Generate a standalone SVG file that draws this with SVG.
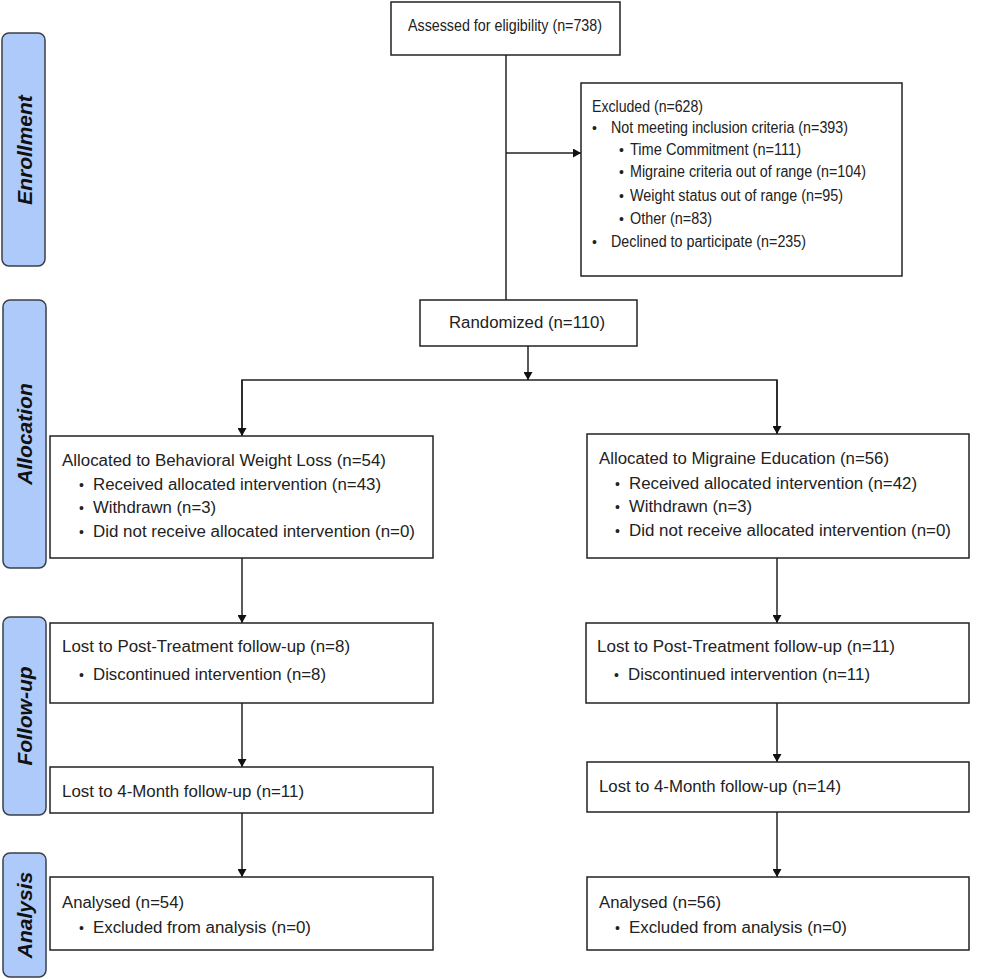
<svg xmlns="http://www.w3.org/2000/svg" width="994" height="979" viewBox="0 0 994 979">
<style>
.box{fill:#fff;stroke:#222;stroke-width:1.5}
.side{fill:#aecafa;stroke:#3a3f48;stroke-width:1.5}
.lbl{font-family:"Liberation Sans",Arial,sans-serif;font-size:21px;font-weight:bold;font-style:italic;fill:#111;text-anchor:middle}
.t{font-family:"Liberation Sans",Arial,sans-serif;font-size:16px;fill:#222}
.b{font-family:"Liberation Sans",Arial,sans-serif;font-size:14px;fill:#222}
.con{stroke:#222;stroke-width:1.5;fill:none}
</style>
<defs>
<marker id="ah" markerWidth="8" markerHeight="9" refX="8" refY="4.5" orient="auto" markerUnits="userSpaceOnUse">
<path d="M0,0 L8,4.5 L0,9 Z" fill="#111"/>
</marker>
</defs>
<rect width="994" height="979" fill="#fff"/>
<g id="phases">
<g id="phase-enrollment"><rect class="side" x="2" y="33" width="43" height="233" rx="7"/><text class="lbl" transform="translate(32,150) rotate(-90)">Enrollment</text></g>
<g id="phase-allocation"><rect class="side" x="3" y="300" width="43" height="268" rx="7"/><text class="lbl" transform="translate(32,434) rotate(-90)">Allocation</text></g>
<g id="phase-followup"><rect class="side" x="3" y="617" width="43" height="198" rx="7"/><text class="lbl" transform="translate(32,716) rotate(-90)">Follow-up</text></g>
<g id="phase-analysis"><rect class="side" x="3" y="853" width="43" height="124" rx="7"/><text class="lbl" transform="translate(32,915) rotate(-90)">Analysis</text></g>
</g>
<g id="connectors">
<line class="con" x1="506" y1="55" x2="506" y2="300"/>
<line class="con" x1="506" y1="153" x2="581" y2="153" marker-end="url(#ah)"/>
<line class="con" x1="528" y1="346" x2="528" y2="380" marker-end="url(#ah)"/>
<polyline class="con" points="242,435 242,380 777,380 777,434"/>
<line class="con" x1="242" y1="380" x2="242" y2="436" marker-end="url(#ah)"/>
<line class="con" x1="777" y1="380" x2="777" y2="434" marker-end="url(#ah)"/>
<line class="con" x1="242" y1="558" x2="242" y2="623" marker-end="url(#ah)"/>
<line class="con" x1="242" y1="703" x2="242" y2="767" marker-end="url(#ah)"/>
<line class="con" x1="242" y1="813" x2="242" y2="877" marker-end="url(#ah)"/>
<line class="con" x1="777" y1="558" x2="777" y2="623" marker-end="url(#ah)"/>
<line class="con" x1="777" y1="703" x2="777" y2="762" marker-end="url(#ah)"/>
<line class="con" x1="777" y1="812" x2="777" y2="877" marker-end="url(#ah)"/>
</g>
<g id="assessed"><rect class="box" x="391" y="2" width="229" height="53"/><text class="t" x="408" y="31" textLength="194" lengthAdjust="spacingAndGlyphs">Assessed for eligibility (n=738)</text></g>
<g id="excluded"><rect class="box" x="581" y="83" width="321" height="193"/>
<text class="t" x="592" y="112" textLength="111" lengthAdjust="spacingAndGlyphs">Excluded (n=628)</text>
<text class="b" x="592" y="133">•</text><text class="t" x="611" y="133" textLength="237" lengthAdjust="spacingAndGlyphs">Not meeting inclusion criteria (n=393)</text>
<text class="b" x="619" y="155">•</text><text class="t" x="630" y="155" textLength="171" lengthAdjust="spacingAndGlyphs">Time Commitment (n=111)</text>
<text class="b" x="619" y="177">•</text><text class="t" x="630" y="177" textLength="236" lengthAdjust="spacingAndGlyphs">Migraine criteria out of range (n=104)</text>
<text class="b" x="619" y="201">•</text><text class="t" x="630" y="201" textLength="213" lengthAdjust="spacingAndGlyphs">Weight status out of range (n=95)</text>
<text class="b" x="619" y="224">•</text><text class="t" x="630" y="224" textLength="82" lengthAdjust="spacingAndGlyphs">Other (n=83)</text>
<text class="b" x="592" y="247">•</text><text class="t" x="611" y="247" textLength="195" lengthAdjust="spacingAndGlyphs">Declined to participate (n=235)</text>
</g>
<g id="randomized"><rect class="box" x="420" y="300" width="217" height="46"/><text class="t" x="449" y="328" textLength="156" lengthAdjust="spacingAndGlyphs">Randomized (n=110)</text></g>
<g id="alloc-bwl"><rect class="box" x="50" y="436" width="383" height="122"/>
<text class="t" x="62" y="466" textLength="324" lengthAdjust="spacingAndGlyphs">Allocated to Behavioral Weight Loss (n=54)</text>
<text class="b" x="79" y="490">•</text><text class="t" x="93" y="490" textLength="288" lengthAdjust="spacingAndGlyphs">Received allocated intervention (n=43)</text>
<text class="b" x="79" y="513">•</text><text class="t" x="93" y="513" textLength="123" lengthAdjust="spacingAndGlyphs">Withdrawn (n=3)</text>
<text class="b" x="79" y="537">•</text><text class="t" x="93" y="537" textLength="322" lengthAdjust="spacingAndGlyphs">Did not receive allocated intervention (n=0)</text>
</g>
<g id="alloc-me"><rect class="box" x="587" y="434" width="382" height="124"/>
<text class="t" x="599" y="464" textLength="290" lengthAdjust="spacingAndGlyphs">Allocated to Migraine Education (n=56)</text>
<text class="b" x="615" y="489">•</text><text class="t" x="629" y="489" textLength="288" lengthAdjust="spacingAndGlyphs">Received allocated intervention (n=42)</text>
<text class="b" x="615" y="512">•</text><text class="t" x="629" y="512" textLength="123" lengthAdjust="spacingAndGlyphs">Withdrawn (n=3)</text>
<text class="b" x="615" y="536">•</text><text class="t" x="629" y="536" textLength="322" lengthAdjust="spacingAndGlyphs">Did not receive allocated intervention (n=0)</text>
</g>
<g id="fu-post-bwl"><rect class="box" x="50" y="623" width="383" height="80"/>
<text class="t" x="62" y="652" textLength="288" lengthAdjust="spacingAndGlyphs">Lost to Post-Treatment follow-up (n=8)</text>
<text class="b" x="79" y="680">•</text><text class="t" x="93" y="680" textLength="233" lengthAdjust="spacingAndGlyphs">Discontinued intervention (n=8)</text>
</g>
<g id="fu-post-me"><rect class="box" x="586" y="623" width="383" height="80"/>
<text class="t" x="597" y="652" textLength="298" lengthAdjust="spacingAndGlyphs">Lost to Post-Treatment follow-up (n=11)</text>
<text class="b" x="614" y="680">•</text><text class="t" x="628" y="680" textLength="242" lengthAdjust="spacingAndGlyphs">Discontinued intervention (n=11)</text>
</g>
<g id="fu-4m-bwl"><rect class="box" x="50" y="767" width="383" height="46"/>
<text class="t" x="62" y="797" textLength="242" lengthAdjust="spacingAndGlyphs">Lost to 4-Month follow-up (n=11)</text>
</g>
<g id="fu-4m-me"><rect class="box" x="587" y="762" width="382" height="50"/>
<text class="t" x="599" y="792" textLength="242" lengthAdjust="spacingAndGlyphs">Lost to 4-Month follow-up (n=14)</text>
</g>
<g id="analysis-bwl"><rect class="box" x="50" y="877" width="383" height="73"/>
<text class="t" x="62" y="908" textLength="122" lengthAdjust="spacingAndGlyphs">Analysed (n=54)</text>
<text class="b" x="79" y="933">•</text><text class="t" x="93" y="933" textLength="218" lengthAdjust="spacingAndGlyphs">Excluded from analysis (n=0)</text>
</g>
<g id="analysis-me"><rect class="box" x="587" y="877" width="382" height="73"/>
<text class="t" x="599" y="908" textLength="122" lengthAdjust="spacingAndGlyphs">Analysed (n=56)</text>
<text class="b" x="615" y="933">•</text><text class="t" x="629" y="933" textLength="218" lengthAdjust="spacingAndGlyphs">Excluded from analysis (n=0)</text>
</g>
</svg>
